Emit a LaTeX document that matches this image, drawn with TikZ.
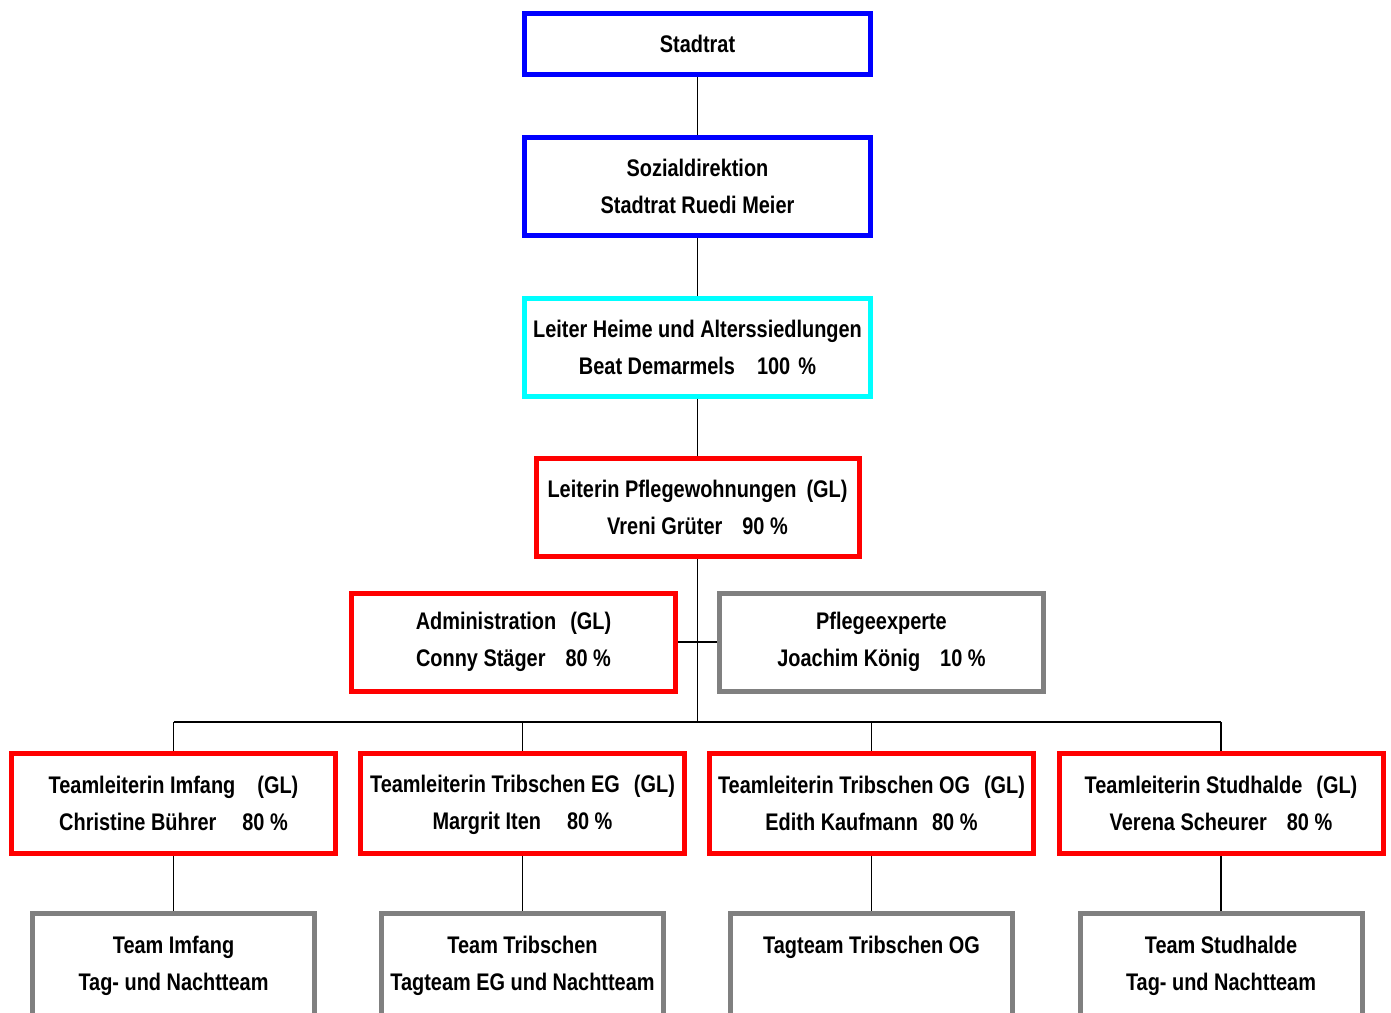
\documentclass[tikz,border=0pt]{standalone}
\usepackage{fontspec}
\setmainfont{Liberation Sans}[FakeStretch=0.89, BoldFeatures={FakeStretch=0.83}]
\begin{document}
\begin{tikzpicture}[x=1pt,y=-1pt,
  box/.style={draw, line width=5pt, rectangle, align=center, inner sep=0pt,
    font=\bfseries\fontsize{24}{37}\selectfont, minimum width=324pt, minimum height=98pt},
  blue box/.style={box, draw={rgb,255:red,0;green,0;blue,255}, minimum width=346pt},
  cyan box/.style={box, draw={rgb,255:red,0;green,255;blue,255}, minimum width=346pt},
  red box/.style={box, draw={rgb,255:red,255;green,0;blue,0}},
  gray box/.style={box, draw={rgb,255:red,128;green,128;blue,128}, minimum width=282pt},
  link/.style={draw=black, line width=1.5pt},
  bar/.style={draw=black, line width=2pt}]
\useasboundingbox (0,0) rectangle (1391,1012);
\clip (0,0) rectangle (1391,1012);
\node[blue box, minimum height=61pt] (stadtrat) at (697.5,44) {Stadtrat};
\node[blue box] (sozial) at (697.5,186.5) {Sozialdirektion\\Stadtrat Ruedi Meier};
\node[cyan box] (leiter) at (697.5,347) {Leiter Heime und Alterssiedlungen\\Beat Demarmels\hspace{22pt}100\hspace{8pt}\%};
\node[red box, minimum width=323pt] (pfleg) at (697.5,507.5) {Leiterin Pflegewohnungen\hspace{10pt}(GL)\\Vreni Grüter\hspace{20pt}90 \%};
\node[red box] (admin) at (513.5,642) {Administration\hspace{14pt}(GL)\\Conny Stäger\hspace{20pt}80 \%};
\node[gray box, minimum width=324pt] (expert) at (881.5,642) {Pflegeexperte\\Joachim König\hspace{20pt}10 \%};
\node[red box, minimum height=100pt] (tl1) at (173.5,803.5) {Teamleiterin Imfang\hspace{22pt}(GL)\\Christine Bührer\hspace{26pt}80 \%};
\node[red box, minimum height=100pt] (tl2) at (522.5,803.5) {\strut Teamleiterin Tribschen EG\hspace{14pt}(GL)\\\strut Margrit Iten\hspace{26pt}80 \%};
\node[red box, minimum height=100pt] (tl3) at (871.5,803.5) {Teamleiterin Tribschen OG\hspace{14pt}(GL)\\Edith Kaufmann\hspace{14pt}80 \%};
\node[red box, minimum height=100pt] (tl4) at (1221,803.5) {Teamleiterin Studhalde\hspace{14pt}(GL)\\Verena Scheurer\hspace{20pt}80 \%};
\node[gray box, minimum height=103pt] (t1) at (173.5,964.5) {\strut Team Imfang\\\strut Tag- und Nachtteam};
\node[gray box, minimum height=103pt] (t2) at (522.5,964.5) {\strut Team Tribschen\\\strut Tagteam EG und Nachtteam};
\node[gray box, minimum height=103pt] (t3) at (871.5,964.5) {\strut Tagteam Tribschen OG\\\strut};
\node[gray box, minimum height=103pt] (t4) at (1221,964.5) {\strut Team Studhalde\\\strut Tag- und Nachtteam};
\coordinate (hb) at (697.5,722);
\draw[link] (stadtrat) -- (sozial);
\draw[link] (sozial) -- (leiter);
\draw[link] (leiter) -- (pfleg);
\draw[link] (pfleg) -- (hb);
\draw[bar] (admin) -- (expert);
\draw[bar] (tl1.north |- hb) -- (tl4.north |- hb);
\foreach \n in {1,2,3,4} {
  \draw[link] (tl\n.north |- hb) -- (tl\n.north);
  \draw[link] (tl\n) -- (t\n);
}
\end{tikzpicture}
\end{document}
